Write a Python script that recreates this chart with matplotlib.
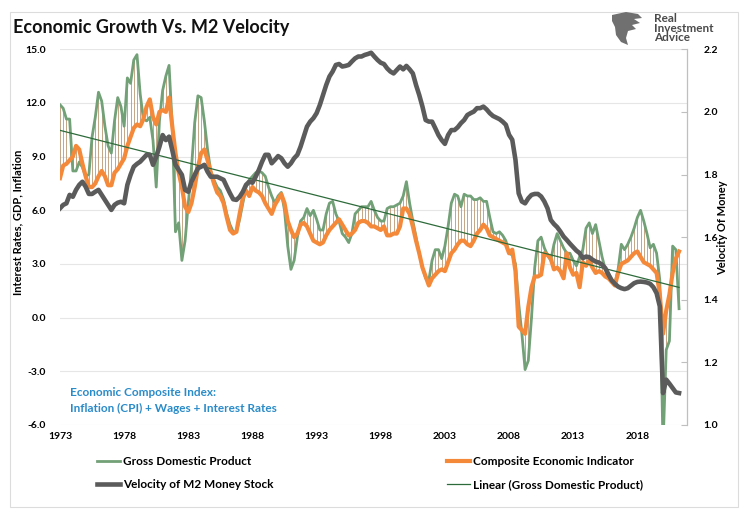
import numpy as np
import matplotlib
matplotlib.use("Agg")
import matplotlib.pyplot as plt
from matplotlib.collections import LineCollection
from matplotlib.patches import Rectangle, Polygon

plt.rcParams['font.family'] = ['Lato', 'DejaVu Sans']

# ---------------- data (quarterly, starting 1973 Q1) ----------------
start_year = 1973

gdp = [11.9, 11.7, 11.1, 11.1, 8.2, 8.2, 8.7, 8.4, 7.9, 8.0,
       10.1, 11.2, 12.6, 12.1, 10.7, 9.6, 9.2, 11.0, 12.3, 11.8,
       10.7, 13.4, 13.1, 14.4, 14.7, 12.5, 11.1, 11.0, 11.2, 9.9,
       7.3, 11.0, 12.7, 13.5, 14.1, 10.7, 4.8, 5.3, 3.2, 4.3,
       6.4, 8.4, 10.9, 12.4, 12.3, 11.0, 9.4, 8.2, 7.7, 7.3,
       7.1, 6.6, 5.8, 5.2, 4.8, 4.8, 5.5, 6.4, 7.3, 7.7,
       7.9, 8.1, 8.2, 8.1, 7.9,
       7.3, 6.8, 6.4, 6.8, 7.0, 6.0, 4.0, 2.7, 3.2, 4.5,
       5.4, 5.6, 6.1, 5.7, 6.0, 5.5, 4.9, 4.9, 5.8, 6.4,
       6.5, 5.8, 5.4, 4.7, 4.5, 4.2, 4.7, 5.8, 6.0, 6.2,
       6.2, 6.2, 6.5, 6.0, 5.6, 5.4, 5.4, 6.1, 6.2, 6.2,
       6.3, 6.4, 6.8, 7.6, 6.4, 5.4, 4.5, 3.6, 2.8, 2.2,
       2.1, 3.2, 3.8, 3.8, 3.3, 4.0, 5.1, 6.4, 6.9, 6.8,
       6.2, 6.9, 6.8, 6.8, 6.6, 6.6,
       6.7, 6.5, 6.5, 5.6, 4.8, 4.7, 4.8, 4.6, 4.3, 3.6,
       3.5, 3.0, 0.8, -0.9, -2.9, -2.4, 0.0, 2.8, 4.3, 4.5,
       3.9, 3.5, 3.2, 4.1, 4.7, 4.3, 3.9, 3.6, 3.6, 3.2,
       2.9, 3.4, 3.8, 5.0, 5.3, 4.7, 5.2, 4.3, 3.4, 2.7,
       2.5, 2.1, 1.9, 2.7, 4.1, 3.8, 4.1, 4.5, 5.0, 5.6,
       6.0, 5.4, 4.7, 3.9, 4.1, 3.6, 2.1, -7.2, -1.8, -1.3,
       4.0, 3.8, 0.5]

composite = [7.8, 8.5, 8.6, 8.8, 9.0, 9.6, 9.4, 8.6, 7.9, 7.3,
             7.3, 7.5, 7.9, 8.2, 7.9, 7.4, 7.4, 8.1, 8.3, 8.6,
             8.9, 9.6, 10.1, 10.6, 10.8, 10.7, 11.1, 11.8, 12.2, 11.2,
             10.8, 11.5, 11.6, 11.5, 12.3, 10.7, 9.2, 8.1, 7.3, 6.2,
             5.9, 6.4, 7.3, 8.4, 9.2, 9.4, 8.8, 8.1, 7.5, 7.0,
             6.8, 6.4, 5.6, 4.9, 4.7, 4.8, 5.8, 6.7, 7.1, 6.8,
             7.3, 7.1, 7.0, 6.8, 6.4,
             6.1, 5.8, 6.3, 6.6, 6.9, 6.4, 5.4, 4.9, 4.5, 4.7,
             5.2, 5.3, 5.1, 4.7, 4.3, 4.2, 4.1, 4.2, 4.6, 4.9,
             5.1, 5.3, 5.5, 5.2, 4.9, 4.6, 4.7, 4.9, 5.3, 5.4,
             5.4, 5.3, 5.1, 5.1, 5.0, 4.9, 5.1, 4.6, 4.6, 4.7,
             4.7, 5.1, 6.1, 6.1, 5.8, 5.1, 4.3, 3.6, 2.8, 2.3,
             1.8, 2.2, 2.4, 2.6, 2.7, 2.6, 3.1, 3.6, 3.8, 4.1,
             4.3, 4.3, 4.1, 4.0, 4.3, 4.7,
             4.9, 5.2, 5.0, 4.6, 4.5, 4.4, 4.3, 4.2, 4.1, 3.6,
             3.8, 2.6, -0.5, -0.7, -0.9, 0.6, 1.7, 2.3, 2.3, 2.4,
             3.6, 3.5, 3.3, 2.7, 2.8, 2.6, 2.2, 3.6, 2.8, 2.4,
             2.5, 1.7, 3.1, 2.9, 3.2, 2.8, 2.5, 2.6, 2.5, 2.3,
             2.2, 2.0, 1.8, 2.5, 3.0, 3.1, 3.2, 3.4, 3.6, 3.7,
             3.4, 3.1, 3.0, 2.9, 2.7, 2.5, 1.3, -0.9, 0.4, 1.3,
             2.5, 3.3, 3.7]

velocity = [1.692, 1.703, 1.708, 1.735, 1.729, 1.751, 1.767, 1.777, 1.761, 1.738,
            1.738, 1.745, 1.751, 1.735, 1.719, 1.703, 1.687, 1.703, 1.710, 1.713,
            1.708, 1.767, 1.799, 1.825, 1.834, 1.841, 1.852, 1.863, 1.863, 1.831,
            1.857, 1.889, 1.926, 1.910, 1.921, 1.878, 1.831, 1.815, 1.799, 1.751,
            1.745, 1.777, 1.799, 1.820, 1.825, 1.831, 1.809, 1.793, 1.793, 1.793,
            1.788, 1.783, 1.761, 1.740, 1.721, 1.719, 1.729, 1.745, 1.767, 1.777,
            1.774, 1.793, 1.815, 1.841, 1.863,
            1.863, 1.836, 1.847, 1.859, 1.852, 1.836, 1.825, 1.836, 1.852, 1.863,
            1.889, 1.921, 1.953, 1.969, 1.980, 1.996, 2.022, 2.054, 2.086, 2.113,
            2.129, 2.150, 2.153, 2.145, 2.147, 2.150, 2.161, 2.171, 2.177, 2.177,
            2.182, 2.185, 2.189, 2.177, 2.166, 2.157, 2.153, 2.139, 2.129, 2.123,
            2.134, 2.145, 2.136, 2.147, 2.136, 2.123, 2.086, 2.054, 2.017, 1.974,
            1.969, 1.969, 1.948, 1.926, 1.910, 1.898, 1.926, 1.942, 1.942, 1.951,
            1.964, 1.974, 1.990, 1.996, 2.001, 2.012,
            2.012, 2.017, 2.008, 1.996, 1.987, 1.982, 1.977, 1.969, 1.959, 1.927,
            1.911, 1.847, 1.740, 1.714, 1.708, 1.724, 1.735, 1.738, 1.738, 1.730,
            1.714, 1.692, 1.655, 1.642, 1.632, 1.618, 1.602, 1.591, 1.579, 1.568,
            1.557, 1.549, 1.533, 1.538, 1.536, 1.528, 1.522, 1.519, 1.512, 1.501,
            1.480, 1.462, 1.451, 1.442, 1.437, 1.434, 1.437, 1.445, 1.453, 1.457,
            1.458, 1.457, 1.455, 1.451, 1.440, 1.421, 1.379, 1.102, 1.145, 1.132,
            1.118, 1.104, 1.102]

year_ticks = [1973, 1978, 1983, 1988, 1993, 1998, 2003, 2008, 2013, 2018]
left_ticks = [-6.0, -3.0, 0.0, 3.0, 6.0, 9.0, 12.0, 15.0]
right_ticks = [1.0, 1.2, 1.4, 1.6, 1.8, 2.0, 2.2]

# ---------------- figure ----------------
x = start_year + np.arange(len(gdp)) / 4.0
gdp_a = np.array(gdp)
comp_a = np.array(composite)

W, H = 748, 521
fig = plt.figure(figsize=(W / 100, H / 100), dpi=100)

def fx(px):
    return px / W

def fy(py):
    return 1 - py / H

# chart border
fig.patches.append(Rectangle((fx(10), fy(507)), fx(728), 495 / H,
                             transform=fig.transFigure, fill=False,
                             edgecolor='#dcdcdc', lw=0.8))

ax = fig.add_axes([fx(60), fy(425), fx(627), (425 - 49.3) / H])
ax2 = ax.twinx()

# high-low lines between GDP and composite
segs = [[(xi, min(g, c)), (xi, max(g, c))] for xi, g, c in zip(x, gdp_a, comp_a)]
ax.add_collection(LineCollection(segs, colors='#b99872', linewidths=0.6, zorder=2))

l_gdp, = ax.plot(x, gdp_a, color='#72a077', lw=2.0, zorder=3,
                 label='Gross Domestic Product')
l_comp, = ax.plot(x, comp_a, color='#f5893a', lw=3.0, zorder=4,
                  label='Composite Economic Indicator')
coef = np.polyfit(x, gdp_a, 1)
l_lin, = ax.plot(x, np.polyval(coef, x), color='#2e6b3b', lw=0.9, zorder=5,
                 label='Linear (Gross Domestic Product)')
l_vel, = ax2.plot(x, velocity, color='#5b5b5b', lw=3.3, zorder=6,
                  label='Velocity of M2 Money Stock')

ax.set_xlim(1973, 1973 + 627 / 12.83)
ax.set_ylim(-6, 15)
ax2.set_ylim(1.0, 2.2)

ax.set_yticks(left_ticks, labels=[f'{v:.1f}' for v in left_ticks],
              fontsize=7.5, fontweight='bold')
ax.set_xticks(year_ticks, labels=[str(y) for y in year_ticks],
              fontsize=7.5, fontweight='bold')
ax2.set_yticks(right_ticks, labels=[f'{v:.1f}' for v in right_ticks],
               fontsize=7.5, fontweight='bold')

ax.yaxis.grid(True, color='#e6e6e6', lw=0.8)
ax.set_axisbelow(True)
for s in ax.spines.values():
    s.set_visible(False)
for k, s in ax2.spines.items():
    s.set_visible(k == 'right')
ax2.spines['right'].set_color('#bfbfbf')
ax2.spines['right'].set_linewidth(0.9)
ax.tick_params(axis='y', length=0, pad=10)
ax.tick_params(axis='x', length=0, pad=5)
ax2.tick_params(axis='y', direction='in', length=4, color='#bfbfbf', pad=12)

fig.text(fx(18), fy(222), 'Interest Rates, GDP, Inflation', rotation=90,
         ha='center', va='center', fontsize=8, fontweight='bold')
fig.text(fx(723), fy(228), 'Velocity Of Money', rotation=90,
         ha='center', va='center', fontsize=8, fontweight='bold')

fig.text(fx(13), fy(27), 'Economic Growth Vs. M2 Velocity', ha='left', va='center',
         fontsize=13, fontweight='bold', color='#111111')

# annotation
fig.text(fx(70), fy(393), 'Economic Composite Index:', ha='left', va='center',
         fontsize=8.5, fontweight='bold', color='#2a8bc9')
fig.text(fx(70), fy(408), 'Inflation (CPI) + Wages + Interest Rates', ha='left',
         va='center', fontsize=8.5, fontweight='bold', color='#2a8bc9')

# logo
fig.text(fx(654), fy(28), 'Real\nInvestment\nAdvice', ha='left', va='center',
         fontsize=8.5, fontweight='bold', color='#4a4a4a', linespacing=0.85)
icon = [(612, 15), (626, 12), (638, 14), (642, 18), (634, 19), (640, 23),
        (632, 25), (636, 29), (628, 31), (626, 38), (628, 45), (621, 42),
        (616, 35), (615, 27), (612, 21)]
fig.patches.append(Polygon([(fx(a), fy(b)) for a, b in icon], closed=True,
                           transform=fig.transFigure, facecolor='#707070',
                           edgecolor='none'))

# legends
kw = dict(frameon=False, fontsize=8.5, handlelength=1.95, handletextpad=0.25,
          labelspacing=1.05, borderpad=0, borderaxespad=0, loc='upper left')
leg1 = fig.legend([l_gdp, l_vel], ['Gross Domestic Product', 'Velocity of M2 Money Stock'],
                  bbox_to_anchor=(fx(97), fy(456)), **kw)
leg2 = fig.legend([l_comp, l_lin], ['Composite Economic Indicator',
                                    'Linear (Gross Domestic Product)'],
                  bbox_to_anchor=(fx(447), fy(456)), **kw)
for lg in (leg1, leg2):
    for t in lg.get_texts():
        t.set_fontweight('bold')

fig.savefig('out.png', dpi=100)
